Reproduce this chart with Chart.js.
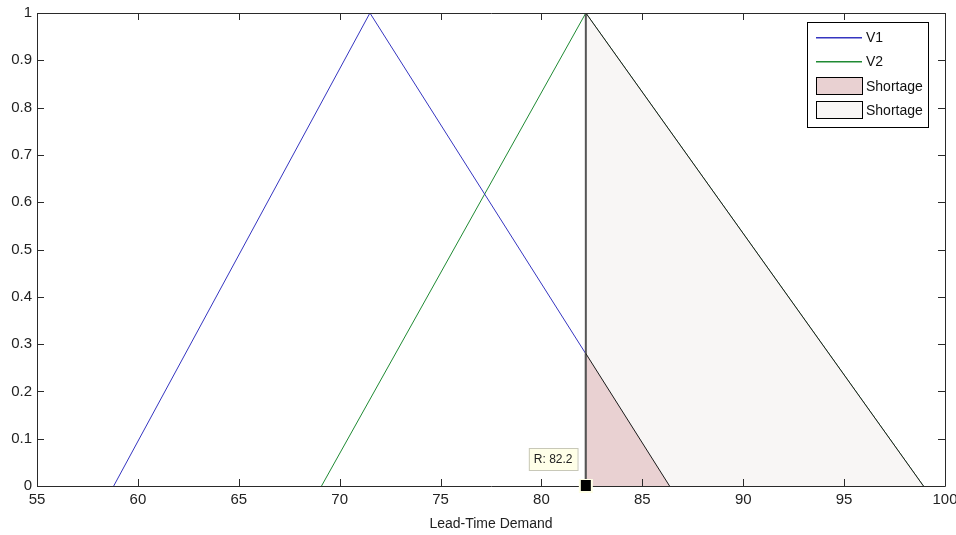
<!DOCTYPE html>
<html><head><meta charset="utf-8">
<script src="https://cdn.jsdelivr.net/npm/chart.js@4.4.1/dist/chart.umd.min.js"></script>
<style>html,body{margin:0;padding:0;background:#fff}canvas{display:block}</style>
</head><body>
<canvas id="c" width="956" height="535"></canvas>
<script>
// Data
const v1X = [58.8, 71.5, 86.35];
const v1Y = [0, 1, 0];
const v2X = [69.1, 82.2, 98.93];
const v2Y = [0, 1, 0];
const shortPinkX = [82.2, 82.2, 86.35];
const shortPinkY = [0, 0.28, 0];
const shortGrayX = [82.2, 82.2, 98.93];
const shortGrayY = [0, 1, 0];
const seriesNames = ['V1', 'V2', 'Shortage', 'Shortage'];
const xTicks = [55, 60, 65, 70, 75, 80, 85, 90, 95, 100];
const yTicks = [0, 0.1, 0.2, 0.3, 0.4, 0.5, 0.6, 0.7, 0.8, 0.9, 1];
const tipX = 82.2, tipY = 0, tipLabel = 'R: 82.2';
const xTitle = 'Lead-Time Demand';

const FONT = '"Liberation Sans", Arial, sans-serif';
const pts = (xs, ys) => xs.map((x, i) => ({x, y: ys[i]}));
const colors = {v1: '#3535c0', v2: '#1f8a33', pink: '#e9d1d2', gray: '#f8f6f5', axis: '#2a2a2a'};
const vertSeg = {
  borderWidth: c => (c.p0.parsed.x === c.p1.parsed.x ? 2 : 1),
  borderColor: c => (c.p0.parsed.x === c.p1.parsed.x ? '#555' : '#1a1a1a')
};

const boxPlugin = {
  id: 'box',
  afterDatasetsDraw(chart) {
    const {ctx, chartArea: a, scales: {x, y}} = chart;
    ctx.save();
    ctx.strokeStyle = colors.axis;
    ctx.lineWidth = 1;
    ctx.beginPath();
    ctx.rect(Math.round(a.left) + 0.5, Math.round(a.top) + 0.5, Math.round(a.right - a.left), Math.round(a.bottom - a.top));
    ctx.stroke();
    const L = 7;
    ctx.beginPath();
    xTicks.forEach(v => {
      const px = Math.round(x.getPixelForValue(v)) + 0.5;
      ctx.moveTo(px, a.bottom); ctx.lineTo(px, a.bottom - L);
      ctx.moveTo(px, a.top); ctx.lineTo(px, a.top + L);
    });
    yTicks.forEach(v => {
      const py = Math.round(y.getPixelForValue(v)) + 0.5;
      ctx.moveTo(a.left, py); ctx.lineTo(a.left + L, py);
      ctx.moveTo(a.right, py); ctx.lineTo(a.right - L, py);
    });
    ctx.stroke();

    // data tip
    const mx = x.getPixelForValue(tipX), my = y.getPixelForValue(tipY);
    ctx.fillStyle = '#ffffe6';
    ctx.fillRect(mx - 7, my - 7, 14, 14);
    ctx.fillStyle = '#000';
    ctx.fillRect(mx - 5, my - 6, 10, 11);
    ctx.font = '12px ' + FONT;
    const tw = ctx.measureText(tipLabel).width;
    const bx = mx - 57, by = my - 38, bw = tw + 10, bh = 22;
    ctx.fillStyle = '#ffffe8';
    ctx.fillRect(bx, by, bw, bh);
    ctx.strokeStyle = '#c8c8b8';
    ctx.strokeRect(bx + 0.5, by + 0.5, bw, bh);
    ctx.fillStyle = '#222';
    ctx.textBaseline = 'middle';
    ctx.textAlign = 'left';
    ctx.fillText(tipLabel, bx + 5, by + bh / 2 + 1);

    // legend
    const lx = 807, ly = 22, lw = 121, lh = 105;
    ctx.fillStyle = '#fff';
    ctx.fillRect(lx, ly, lw, lh);
    ctx.strokeStyle = '#000';
    ctx.strokeRect(lx + 0.5, ly + 0.5, lw, lh);
    ctx.font = '14px ' + FONT;
    const rows = [37, 61, 86, 110];
    const lineCols = [colors.v1, colors.v2];
    const fillCols = [null, null, colors.pink, colors.gray];
    rows.forEach((ry, i) => {
      if (i < 2) {
        ctx.fillStyle = lineCols[i];
        ctx.fillRect(816, ry, 46, 1.5);
      } else {
        ctx.fillStyle = fillCols[i];
        ctx.fillRect(816, ry - 9, 46, 18);
        ctx.strokeStyle = '#000';
        ctx.strokeRect(816.5, ry - 8.5, 46, 17);
      }
      ctx.fillStyle = '#111';
      ctx.fillText(seriesNames[i], 866, ry + 1);
    });
    ctx.restore();
  }
};

new Chart(document.getElementById('c'), {
  type: 'scatter',
  data: {
    datasets: [
      {label: seriesNames[0], data: pts(v1X, v1Y), showLine: true, borderColor: colors.v1, borderWidth: 1, pointRadius: 0, fill: false, order: 3},
      {label: seriesNames[1], data: pts(v2X, v2Y), showLine: true, borderColor: colors.v2, borderWidth: 1, pointRadius: 0, fill: false, order: 4},
      {label: seriesNames[2], data: pts(shortPinkX, shortPinkY), showLine: true, borderColor: '#1a1a1a', backgroundColor: colors.pink, borderWidth: 1, pointRadius: 0, fill: 'origin', order: 1, segment: vertSeg},
      {label: seriesNames[3], data: pts(shortGrayX, shortGrayY), showLine: true, borderColor: '#1a1a1a', backgroundColor: colors.gray, borderWidth: 1, pointRadius: 0, fill: 'origin', order: 2, segment: vertSeg}
    ]
  },
  options: {
    responsive: false,
    animation: false,
    layout: {padding: {top: 13, right: 11, left: 0, bottom: 0}},
    plugins: {legend: {display: false}, tooltip: {enabled: false}},
    scales: {
      x: {
        type: 'linear', min: 55, max: 100,
        afterBuildTicks(s) { s.ticks = xTicks.map(v => ({value: v})); },
        ticks: {font: {family: FONT, size: 15}, color: '#222', padding: 5, maxRotation: 0, autoSkip: false, callback: v => String(v)},
        grid: {display: false, drawTicks: false},
        border: {display: false},
        title: {display: true, text: xTitle, font: {family: FONT, size: 14}, color: '#222', padding: {top: 0, bottom: 2}},
        afterFit(s) { s.height = 49; s.paddingLeft = 0; s.paddingRight = 0; }
      },
      y: {
        min: 0, max: 1,
        afterBuildTicks(s) { s.ticks = yTicks.map(v => ({value: v})); },
        ticks: {font: {family: FONT, size: 15}, color: '#222', padding: 5, autoSkip: false, callback: v => String(v)},
        grid: {display: false, drawTicks: false},
        border: {display: false},
        afterFit(s) { s.width = 37; s.paddingTop = 0; s.paddingBottom = 0; }
      }
    }
  },
  plugins: [boxPlugin]
});
</script>
</body></html>
